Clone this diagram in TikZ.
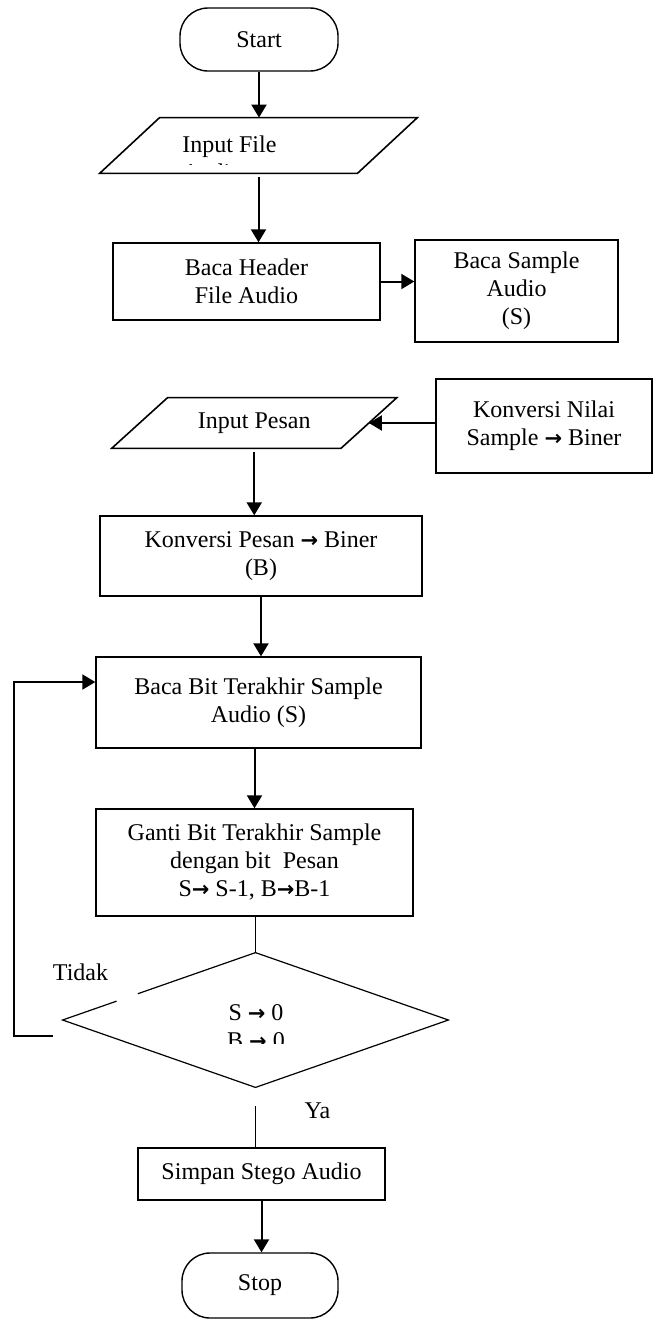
\documentclass[tikz,border=0pt]{standalone}
\usepackage{fontspec}
\setmainfont{Liberation Serif}
\newfontfamily\arrfont{DejaVu Sans}
\usetikzlibrary{arrows.meta,shapes.geometric,calc}
\newcommand{\toarr}{{\arrfont\bfseries\fontsize{10.5}{12}\selectfont\char"2192}}
\begin{document}
\begin{tikzpicture}[x=0.5pt,y=-0.5pt,
	font=\fontsize{12}{14}\selectfont,
	box/.style={draw,line width=0.7pt,align=center,inner sep=0pt},
	term/.style={box,rounded corners=14pt},
	io/.style={align=center,inner sep=0pt},
	arr/.style={line width=1pt,-{Triangle[width=7.5pt,length=6.5pt]}},
	ln/.style={line width=0.8pt}]
	\useasboundingbox (0,0) rectangle (654,1319);
	\node[term,minimum width=79pt,minimum height=31.5pt] (start) at (259,39.5) {Start};
	\node[io,minimum width=128.5pt,minimum height=27.5pt] (infile) at (258.5,145.5) {};
	\draw[line width=0.8pt] ([xshift=-15pt]infile.south west) -- ([xshift=15pt]infile.north west) -- ([xshift=15pt]infile.north east) -- ([xshift=-15pt]infile.south east) -- cycle;
	\begin{scope}
		\clip (100,118) rectangle (417,164);
		\node[anchor=north west,align=left,inner sep=0pt] (infiletxt) at (182,135) {Input File\\Audio};
	\end{scope}
	\node[box,minimum width=133.5pt,minimum height=38.5pt] (header) at (246.5,281.5) {Baca Header\\File Audio};
	\node[box,minimum width=101.5pt,minimum height=51pt] (sample) at (516.5,291) {Baca Sample\\Audio\\(S)};
	\node[box,minimum width=108pt,minimum height=47pt] (knilai) at (544,426) {Konversi Nilai\\Sample \toarr{} Biner};
	\node[io,minimum width=114.25pt,minimum height=25pt] (inpesan) at (254.25,423) {Input Pesan};
	\draw[line width=0.8pt] ([xshift=-14pt]inpesan.south west) -- ([xshift=14pt]inpesan.north west) -- ([xshift=14pt]inpesan.north east) -- ([xshift=-14pt]inpesan.south east) -- cycle;
	\node[box,minimum width=161pt,minimum height=40pt] (kpesan) at (261,556) {Konversi Pesan \toarr{} Biner\\(B)};
	\node[box,minimum width=162.5pt,minimum height=45.5pt] (bacabit) at (258.5,702.5) {Baca Bit Terakhir Sample\\Audio (S)};
	\node[box,minimum width=158.5pt,minimum height=53.5pt] (ganti) at (254.5,862.5) {Ganti Bit Terakhir Sample\\dengan bit~ Pesan\\S\toarr{} S-1, B\toarr{}B-1};
	\node[diamond,minimum width=192.5pt,minimum height=67pt,inner sep=0pt] (dec) at (255.5,1020) {};
	\draw[line width=0.6pt] (dec.north) -- (dec.east) -- (dec.south) -- (dec.west) -- ($(dec.west)!0.28!(dec.north)$);
	\draw[line width=0.6pt] ($(dec.west)!0.39!(dec.north)$) -- (dec.north);
	\begin{scope}
		\clip (150,990) rectangle (360,1043);
		\node[anchor=north,align=center,inner sep=0pt] (dectxt) at (256,1004) {S \toarr{} 0\\B \toarr{} 0};
	\end{scope}
	\node[box,minimum width=123.5pt,minimum height=26pt] (simpan) at (261.5,1174) {Simpan Stego Audio};
	\node[term,minimum width=78pt,minimum height=32.5pt] (stop) at (260,1285.5) {Stop};
	\node[anchor=base] (tidak) at (80.5,980) {Tidak};
	\node[anchor=base] (ya) at (317.5,1118) {Ya};
	\coordinate (loopend) at (53,1036);
	\draw[arr] (start.south) -- (start.south |- infile.north);
	\draw[arr] ([yshift=-2pt]infile.south) -- (infile.south |- header.north);
	\draw[arr] (header.east) -- (header.east -| sample.west);
	\draw[arr] (inpesan.east -| knilai.west) -- (inpesan.east);
	\draw[arr] ([yshift=-2pt]inpesan.south) -- (inpesan.south |- kpesan.north);
	\draw[arr] (kpesan.south) -- (kpesan.south |- bacabit.north);
	\draw[arr] (ganti.north |- bacabit.south) -- (ganti.north);
	\draw[ln] (dec.north |- ganti.south) -- (dec.north);
	\draw[line width=0.6pt] ([yshift=-9.5pt]dec.south) -- (dec.south |- simpan.north);
	\draw[arr] (simpan.south) -- (simpan.south |- stop.north);
	\draw[arr] (loopend) -- ++(-39,0) |- ([yshift=10.25pt]bacabit.west);
\end{tikzpicture}
\end{document}
